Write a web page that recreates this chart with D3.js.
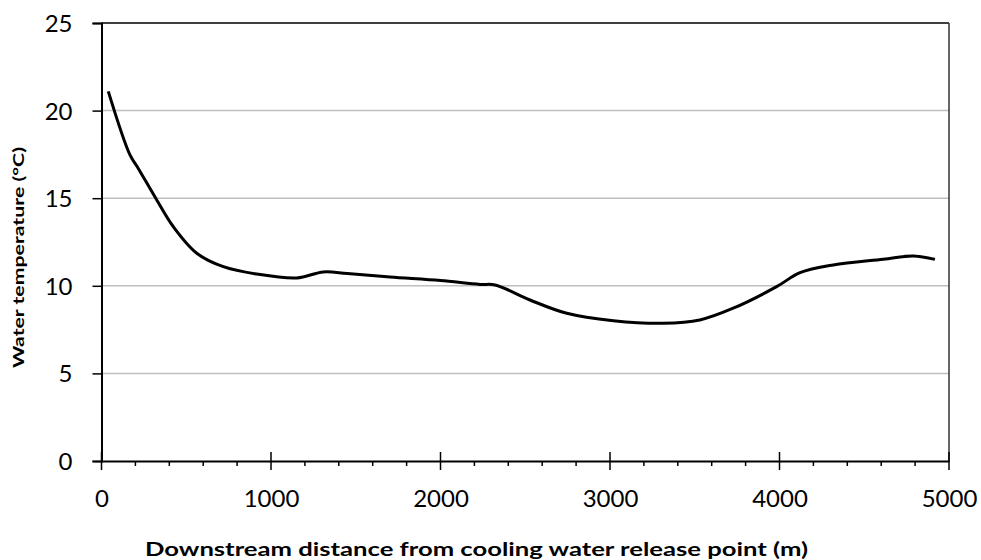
<!DOCTYPE html>
<html><head><meta charset="utf-8">
<script src="https://cdn.jsdelivr.net/npm/d3@7"></script>
<style>body{margin:0;background:#fff}svg{display:block}text{font-family:Lato,"Open Sans",sans-serif}</style>
</head><body>
<svg id="c" width="981" height="560"></svg>
<script>
const distance = [40,168,217,326,424,562,719,915,1152,1309,1450,1702,2000,2233,2322,2528,2745,3020,3314,3530,3727,3983,4121,4317,4612,4789,4917];
const temperature = [21.1,17.47,16.7,14.9,13.37,11.86,11.09,10.67,10.45,10.79,10.7,10.5,10.3,10.08,10.05,9.19,8.43,8.01,7.86,8.05,8.72,9.95,10.75,11.19,11.51,11.7,11.51];
const xTicks = [0,1000,2000,3000,4000,5000];
const yTicks = [0,5,10,15,20,25];
const xTitle = "Downstream distance from cooling water release point (m)";
const yTitle = "Water temperature (°C)";

const svg = d3.select("#c");
const L=101.5,R=949,T=23,B=461;
const x = d3.scaleLinear().domain([0,5000]).range([L,R]);
const y = d3.scaleLinear().domain([0,25]).range([B,T]);

// gridlines
svg.append("g").selectAll("line").data(yTicks.filter(d=>d>0&&d<25)).join("line")
  .attr("x1",L).attr("x2",R).attr("y1",d=>y(d)).attr("y2",d=>y(d))
  .attr("stroke","#bfbfbf").attr("stroke-width",1.5);
// border top/right
svg.append("line").attr("x1",L).attr("x2",R).attr("y1",T).attr("y2",T).attr("stroke","#000").attr("stroke-width",1.5);
svg.append("line").attr("x1",R).attr("x2",R).attr("y1",T).attr("y2",B).attr("stroke","#333").attr("stroke-width",1.5);

// y axis
const ya = svg.append("g").attr("transform",`translate(${L},0)`)
  .call(d3.axisLeft(y).tickValues(yTicks).tickFormat(d3.format("d")).tickSize(9).tickPadding(20));
ya.select(".domain").attr("stroke","#000").attr("stroke-width",2);
ya.selectAll(".tick line").attr("stroke","#000").attr("stroke-width",1.5);
ya.selectAll("text").attr("font-size",24).attr("fill","#000").attr("font-family","Lato").attr("dy","0.35em");

// x axis minor
const minor = d3.range(0,5001,200).filter(d=>d%1000!==0);
svg.append("g").selectAll("line").data(minor).join("line")
  .attr("x1",d=>x(d)).attr("x2",d=>x(d)).attr("y1",B).attr("y2",B+5)
  .attr("stroke","#000").attr("stroke-width",1.5);
const xa = svg.append("g").attr("transform",`translate(0,${B})`)
  .call(d3.axisBottom(x).tickValues(xTicks).tickFormat(d3.format("d")).tickSize(0).tickPadding(0));
xa.select(".domain").attr("stroke","#000").attr("stroke-width",2);
xa.selectAll(".tick line").remove();
xa.selectAll("text").attr("font-size",24).attr("fill","#000").attr("font-family","Lato").attr("dy",null).attr("y",46);
svg.append("g").selectAll("line").data(xTicks).join("line")
  .attr("x1",d=>x(d)).attr("x2",d=>x(d)).attr("y1",B-9).attr("y2",B+9)
  .attr("stroke","#000").attr("stroke-width",1.5);

// line
svg.append("path").datum(distance.map((d,i)=>[d,temperature[i]]))
  .attr("d",d3.line().x(d=>x(d[0])).y(d=>y(d[1])).curve(d3.curveCatmullRom.alpha(0.5)))
  .attr("fill","none").attr("stroke","#000").attr("stroke-width",3);

// titles
svg.append("text").attr("x",476.5).attr("y",556).attr("text-anchor","middle")
  .attr("font-size",19).attr("font-weight","bold")
  .attr("textLength",663).attr("lengthAdjust","spacingAndGlyphs").text(xTitle);
svg.append("text").attr("transform","translate(24,257.5) rotate(-90)").attr("text-anchor","middle")
  .attr("font-size",16).attr("font-weight","bold")
  .attr("textLength",221).attr("lengthAdjust","spacingAndGlyphs").text(yTitle);
</script>
</body></html>
